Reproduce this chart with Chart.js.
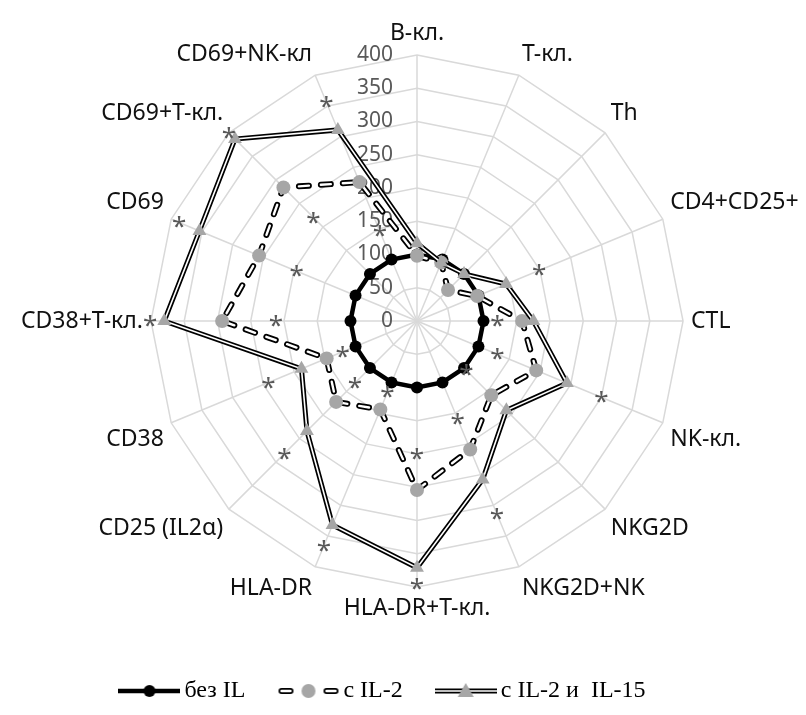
<!DOCTYPE html>
<html><head><meta charset="utf-8">
<script src="https://cdn.jsdelivr.net/npm/chart.js@4/dist/chart.umd.min.js"></script>
<style>html,body{margin:0;padding:0;background:#fff;overflow:hidden}#wrap{width:806px;height:715px;position:relative}</style>
</head><body><div id="wrap"><canvas id="c"></canvas></div>
<script>
const categories = ['B-кл.','T-кл.','Th','CD4+CD25+','CTL','NK-кл.','NKG2D','NKG2D+NK','HLA-DR+T-кл.','HLA-DR','CD25 (IL2α)','CD38','CD38+T-кл.','CD69','CD69+T-кл.','CD69+NK-кл'];
const tickValues = [0,50,100,150,200,250,300,350,400];
const seriesNames = ['без IL','с IL-2','с IL-2 и  IL-15'];
const noIL        = [100,100,100,100,100,100,100,100,100,100,100,100,100,100,100,100];
const withIL2     = [98,95,66,98,158,194,158,209,254,144,172,147,293,257,284,226];
const withIL2IL15 = [117,95,100,145,175,244,190,258,371,332,234,188,380,354,387,311];
const starsInner  = [null,null,null,null,121,131,105,160,200,116,132,121,212,196,220,146];
const starsOuter  = [null,null,null,199,null,300,null,314,395,366,282,242,401,387,400,356];

const GRAY = '#A6A6A6';
const GRID = '#D9D9D9';
const TXT = '#595959';

function icon(kind){
  const w = 62, h = 20, c = document.createElement('canvas');
  c.width = w; c.height = h;
  const x = c.getContext('2d'), y = h/2;
  if (kind === 0){
    x.strokeStyle = '#000'; x.lineWidth = 4.5;
    x.beginPath(); x.moveTo(0,y); x.lineTo(w,y); x.stroke();
    x.fillStyle = '#000'; x.beginPath(); x.arc(w/2,y,6,0,Math.PI*2); x.fill();
  } else if (kind === 1){
    x.lineCap = 'round';
    [[4,13],[49,58]].forEach(s=>{
      x.strokeStyle='#000'; x.lineWidth=6; x.beginPath(); x.moveTo(s[0],y); x.lineTo(s[1],y); x.stroke();
      x.strokeStyle='#fff'; x.lineWidth=2.4; x.beginPath(); x.moveTo(s[0],y); x.lineTo(s[1],y); x.stroke();
    });
    x.fillStyle = GRAY; x.beginPath(); x.arc(w/2,y,7,0,Math.PI*2); x.fill();
  } else {
    x.strokeStyle='#000'; x.lineWidth=5; x.beginPath(); x.moveTo(0,y); x.lineTo(w,y); x.stroke();
    x.strokeStyle='#fff'; x.lineWidth=1.6; x.beginPath(); x.moveTo(0,y); x.lineTo(w,y); x.stroke();
    x.fillStyle = GRAY; x.beginPath();
    x.moveTo(w/2, y-8); x.lineTo(w/2+8, y+6); x.lineTo(w/2-8, y+6); x.closePath(); x.fill();
  }
  return c;
}

const starPlugin = {
  id: 'stars',
  afterLayout(chart){
    const L = chart.legend;
    if (L) { L.left -= 27; L.right -= 27; }
  },
  beforeDatasetsDraw(chart){
    const s = chart.scales.r, ctx = chart.ctx;
    ctx.save();
    ctx.font = '21px "Noto Sans"';
    ctx.fillStyle = TXT; ctx.textAlign = 'right'; ctx.textBaseline = 'middle';
    tickValues.forEach(v=>{
      const d = s.getDistanceFromCenterForValue(v);
      ctx.fillText(String(v), s.xCenter - 24, s.yCenter - d);
    });
    ctx.restore();
  },
  afterDatasetsDraw(chart){
    const s = chart.scales.r, ctx = chart.ctx;
    ctx.save();
    ctx.font = '26px "Noto Sans"';
    ctx.fillStyle = TXT; ctx.textAlign = 'center'; ctx.textBaseline = 'alphabetic';
    const m = ctx.measureText('*');
    const off = (m.actualBoundingBoxAscent - m.actualBoundingBoxDescent)/2;
    [starsInner, starsOuter].forEach(arr=>arr.forEach((v,i)=>{
      if (v == null) return;
      const p = s.getPointPositionForValue(i, v);
      ctx.fillText('*', p.x, p.y + off);
    }));
    ctx.restore();
  }
};

const base = {fill:false, tension:0, pointHoverRadius:0};
new Chart(document.getElementById('c'), {
  type: 'radar',
  data: {
    labels: categories,
    datasets: [
      Object.assign({}, base, {label: seriesNames[2], data: withIL2IL15, order: 0, borderColor:'#fff', borderWidth:1.6, borderJoinStyle:'miter', pointStyle:'triangle', pointRadius:8, pointBackgroundColor:GRAY, pointBorderColor:GRAY, pointBorderWidth:0}),
      Object.assign({}, base, {label: seriesNames[2]+' ', data: withIL2IL15, order: 1, borderColor:'#000', borderWidth:5, borderJoinStyle:'miter', pointRadius:0}),
      Object.assign({}, base, {label: seriesNames[1], data: withIL2, order: 2, borderColor:'#fff', borderWidth:2.4, borderDash:[10,12], borderCapStyle:'round', pointStyle:'circle', pointRadius:7, pointBackgroundColor:GRAY, pointBorderColor:GRAY, pointBorderWidth:0}),
      Object.assign({}, base, {label: seriesNames[1]+' ', data: withIL2, order: 3, borderColor:'#000', borderWidth:6, borderDash:[10,12], borderCapStyle:'round', pointRadius:0}),
      Object.assign({}, base, {label: seriesNames[0], data: noIL, order: 4, borderColor:'#000', borderWidth:4.5, pointStyle:'circle', pointRadius:6, pointBackgroundColor:'#000', pointBorderColor:'#000', pointBorderWidth:0})
    ]
  },
  options: {
    responsive: true, maintainAspectRatio: false, animation: false,
    layout: {padding: {top: 7, bottom: 2, left: 13, right: -7}},
    scales: {
      r: {
        min: 0, max: 400,
        ticks: {stepSize: 50, display: false},
        grid: {color: GRID, lineWidth: 1.5},
        angleLines: {color: GRID, lineWidth: 1.5},
        pointLabels: {font: {family: '"Noto Sans"', size: 23}, color: '#111', padding: 8}
      }
    },
    plugins: {
      tooltip: {enabled: false},
      legend: {
        position: 'bottom',
        onClick: null,
        title: {display: true, text: ' ', font: {size: 1}, padding: {top: 1, bottom: 0}},
        labels: {
          usePointStyle: true, pointStyleWidth: 46,
          font: {family: '"Liberation Serif"', size: 24}, color: '#000', padding: 40,
          generateLabels: () => seriesNames.map((n,i)=>({text: n, fontColor: '#000', pointStyle: icon(i), datasetIndex: [4,2,0][i], hidden:false, lineWidth:0, fillStyle:'#fff', strokeStyle:'#fff'}))
        }
      }
    }
  },
  plugins: [starPlugin]
});
</script>
</body></html>
